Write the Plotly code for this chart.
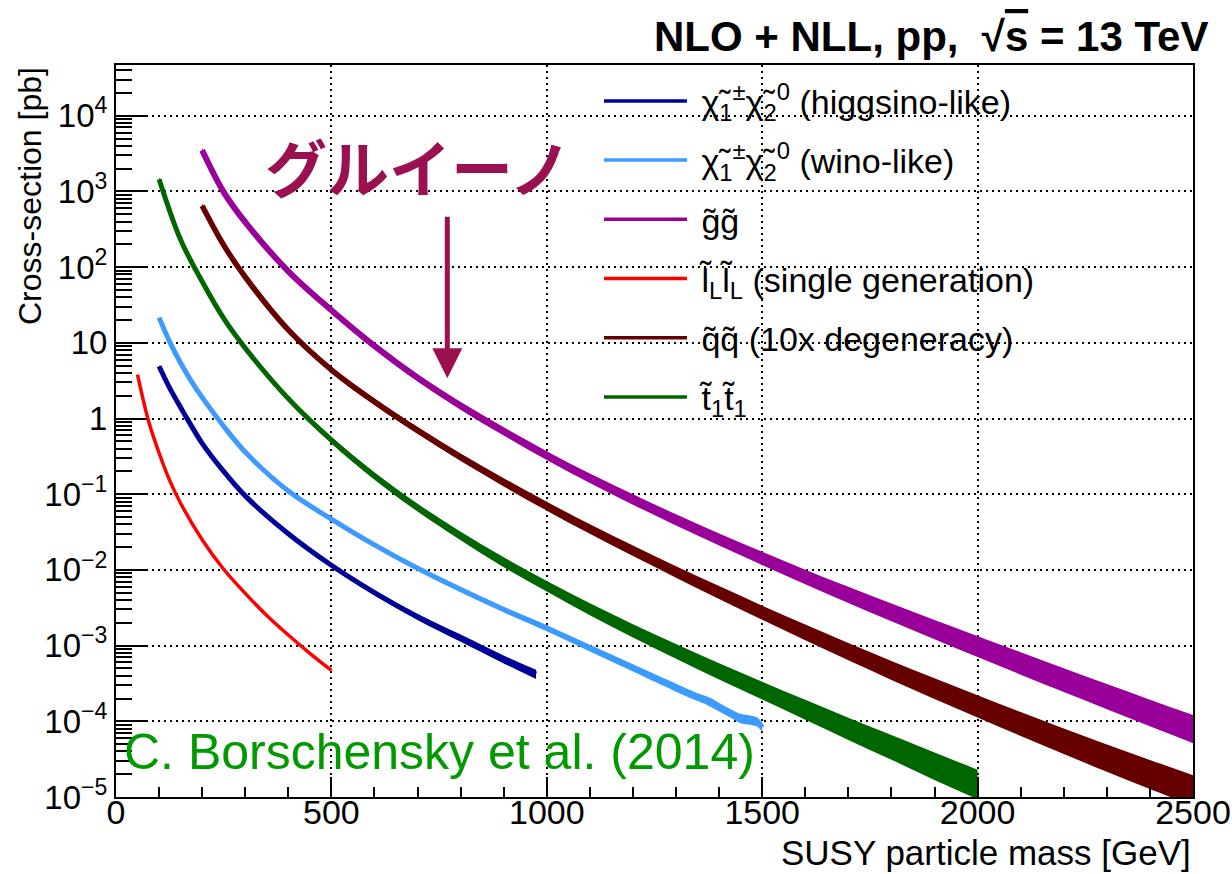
import plotly.graph_objects as go
import numpy as np

# ---------------- data ----------------
gluino_mass = [200, 250, 300, 400, 500, 600, 700, 800, 900, 1000, 1100, 1200, 1300,
               1400, 1500, 1600, 1700, 1800, 1900, 2000, 2100, 2200, 2300, 2400, 2500]
gluino_xsec = [3500, 980, 393, 88, 27, 9.1, 3.45, 1.47, 0.677, 0.325, 0.163, 0.0856, 0.046,
               0.0253, 0.0142, 0.0081, 0.0047, 0.00276, 0.00164, 0.00098, 0.00059, 0.000359,
               0.000219, 0.000134, 8.3e-5]
gluino_up = [7, 7, 7, 8, 9, 10, 11, 12, 13, 14, 15, 17, 18, 20, 22, 24, 27, 30, 33, 36, 38, 40, 42, 44, 46]
gluino_dn = [7, 7, 7, 8, 9, 10, 10, 11, 12, 13, 14, 15, 16, 17, 18, 20, 22, 24, 26, 28, 30, 32, 34, 36, 38]

squark_mass = gluino_mass
squark_xsec = [646, 195, 74, 14.8, 4.4, 1.67, 0.697, 0.308, 0.144, 0.0697, 0.0349, 0.0179, 0.0094,
               0.00505, 0.00274, 0.00151, 0.00084, 0.000476, 0.000274, 0.00016, 9.4e-5, 5.6e-5,
               3.37e-5, 2.06e-5, 1.27e-5]
squark_up = [7, 7, 7, 8, 9, 10, 11, 12, 13, 14, 15, 17, 19, 21, 23, 26, 29, 32, 35, 38, 41, 44, 47, 50, 53]
squark_dn = [7, 7, 7, 8, 9, 10, 10, 11, 12, 13, 14, 15, 16, 18, 20, 22, 24, 26, 28, 30, 32, 34, 36, 38, 40]

stop_mass = [100, 150, 200, 250, 300, 400, 500, 600, 700, 800, 900, 1000, 1100, 1200,
             1300, 1400, 1500, 1600, 1700, 1800, 1900, 2000]
stop_xsec = [1450, 230, 64.5, 21, 8.5, 1.83, 0.52, 0.175, 0.067, 0.0283, 0.0128, 0.00615,
             0.00307, 0.0016, 0.00086, 0.00047, 0.000265, 0.00015, 8.6e-5, 5.0e-5, 2.9e-5, 1.7e-5]
stop_up = [7, 7, 7, 7, 8, 9, 10, 11, 12, 13, 15, 16, 18, 20, 22, 24, 26, 28, 30, 32, 34, 35]
stop_dn = [7, 7, 7, 7, 8, 9, 10, 11, 12, 13, 15, 16, 18, 20, 22, 24, 27, 30, 34, 38, 42, 45]

wino_mass = [100, 125, 150, 175, 200, 250, 300, 400, 500, 600, 700, 800, 900, 1000, 1100,
             1200, 1300, 1350, 1375, 1400, 1425, 1450, 1475, 1490, 1500]
wino_xsec = [21.5, 10.2, 5.4, 3.1, 1.9, 0.79, 0.36, 0.11, 0.047, 0.0214, 0.0105, 0.0055, 0.0030,
             0.0017, 9.3e-4, 5.1e-4, 2.8e-4, 2.1e-4, 1.85e-4, 1.55e-4, 1.3e-4, 1.1e-4, 1.04e-4,
             9.8e-5, 8.3e-5]
wino_unc = [4, 4, 4, 4, 4, 4, 4, 5, 5, 6, 6, 7, 8, 9, 10, 11, 12, 12, 13, 13, 13, 14, 14, 14, 14]

higgsino_mass = [100, 125, 150, 175, 200, 250, 300, 400, 500, 600, 700, 800, 900, 975]
higgsino_xsec = [4.9, 2.5, 1.4, 0.80, 0.47, 0.20, 0.095, 0.030, 0.0115, 0.0050, 0.0024,
                 0.00126, 0.00066, 0.00042]
higgsino_unc = [4, 4, 4, 4, 4, 5, 5, 6, 7, 8, 9, 11, 12, 14]

slepton_mass = [50, 75, 100, 125, 150, 200, 250, 300, 350, 400, 450, 500]
slepton_xsec = [3.8, 0.95, 0.35, 0.15, 0.076, 0.025, 0.0102, 0.0049, 0.0025, 0.00138,
                0.00079, 0.00047]
slepton_unc = [3, 3, 3, 3, 3, 3, 3, 3, 3, 3, 3, 3]

NB = "\u00a0"
series = [
    (NB + "χ̃<sub>1</sub><sup>±</sup>χ̃<sub>2</sub><sup>0</sup> (higgsino-like)", higgsino_mass,
     higgsino_xsec, higgsino_unc, higgsino_unc, "#000099", 5),
    (NB + "χ̃<sub>1</sub><sup>±</sup>χ̃<sub>2</sub><sup>0</sup> (wino-like)", wino_mass, wino_xsec,
     wino_unc, wino_unc, "#3d9bff", 5),
    (NB + "g̃g̃", gluino_mass, gluino_xsec, gluino_up, gluino_dn, "#990099", 6),
    (NB + "l̃<sub>L</sub>l̃<sub>L</sub> (single generation)", slepton_mass, slepton_xsec,
     slepton_unc, slepton_unc, "#ff0000", 3.5),
    (NB + "q̃q̃ (10x degeneracy)", squark_mass, squark_xsec, squark_up, squark_dn, "#660000", 5.5),
    (NB + "t̃<sub>1</sub>t̃<sub>1</sub>", stop_mass, stop_xsec, stop_up, stop_dn, "#006600", 5),
]

fig = go.Figure()

# uncertainty bands (lower edge, then upper edge filled down to it)
for i, (name, m, xs, up, dn, col, lw) in enumerate(series):
    xs = np.array(xs, float)
    hi = xs * (1 + np.array(up) / 100.0)
    lo = xs * (1 - np.array(dn) / 100.0)
    fig.add_trace(go.Scatter(x=m, y=lo, mode="lines", line=dict(width=0, color=col, shape="spline"),
                             showlegend=False, hoverinfo="skip"))
    fig.add_trace(go.Scatter(x=m, y=hi, mode="lines", line=dict(width=0, color=col, shape="spline"),
                             fill="tonexty", fillcolor=col, showlegend=False, hoverinfo="skip"))

# central lines
for i, (name, m, xs, up, dn, col, lw) in enumerate(series):
    fig.add_trace(go.Scatter(x=m, y=xs, mode="lines", showlegend=False,
                             line=dict(color=col, width=lw, shape="spline")))

# legend entries (thin keys as in the reference)
for i, (name, m, xs, up, dn, col, lw) in enumerate(series):
    fig.add_trace(go.Scatter(x=[None], y=[None], mode="lines", name=name, legendgroup=f"g{i}",
                             line=dict(color=col, width=3.5)))

NARROW = "Liberation Sans Narrow, Liberation Sans, Arial, sans-serif"
SANS = "Liberation Sans, Arial, sans-serif"

ytickvals = [10.0 ** k for k in range(-5, 5)]
yticktext = ["10<sup>−5</sup>", "10<sup>−4</sup>", "10<sup>−3</sup>", "10<sup>−2</sup>",
             "10<sup>−1</sup>", "1", "10", "10<sup>2</sup>", "10<sup>3</sup>", "10<sup>4</sup>"]
yminor = [d * 10.0 ** k for k in range(-5, 5) for d in range(2, 10)]

fig.update_layout(
    width=1232, height=874,
    margin=dict(l=116, r=39, t=65, b=77, autoexpand=False),
    paper_bgcolor="white", plot_bgcolor="white",
    font=dict(family=SANS, color="black"),
    xaxis=dict(range=[0, 2500], showline=True, linewidth=2, linecolor="black", mirror=True,
               automargin=False,
               ticks="inside", ticklen=20, tickwidth=1.5, tickcolor="black",
               tickvals=[0, 500, 1000, 1500, 2000, 2500],
               tickfont=dict(family=NARROW, size=34), ticklabelstandoff=-16,
               showgrid=True, gridcolor="black", gridwidth=1.5, griddash="2px,4px",
               minor=dict(dtick=100, ticks="inside", ticklen=10, tickwidth=1.5, tickcolor="black",
                          showgrid=False),
               zeroline=False),
    yaxis=dict(type="log", range=[-5, 4.67], showline=True, linewidth=2, linecolor="black",
               mirror=True, automargin=False,
               ticks="inside", ticklen=31, tickwidth=1.5, tickcolor="black",
               tickvals=ytickvals, ticktext=yticktext,
               tickfont=dict(family=SANS, size=33),
               showgrid=True, gridcolor="black", gridwidth=1.5, griddash="2px,4px",
               minor=dict(tickvals=yminor, ticks="inside", ticklen=16, tickwidth=1.5,
                          tickcolor="black", showgrid=False),
               zeroline=False),
    legend=dict(x=(599 - 116) / 1077, y=0.99, xanchor="left", yanchor="top",
                bgcolor="rgba(0,0,0,0)",
                font=dict(family=SANS, size=34), itemwidth=83, tracegroupgap=12),
    showlegend=True,
)

# white box behind the citation text (hides grid only)
fig.add_shape(type="rect", xref="paper", yref="paper", x0=0.001, x1=0.59, y0=0.001, y1=0.099,
              fillcolor="white", line=dict(width=0), layer="between")

fig.add_annotation(text="C. Borschensky et al. (2014)", xref="paper", yref="paper",
                   x=0.006, y=(797 - 752) / 732, xanchor="left", yanchor="middle", showarrow=False,
                   font=dict(family=NARROW, size=50, color="#009900"))

fig.add_annotation(text="<b>グルイーノ</b>", xref="paper", yref="paper",
                   x=(418 - 116) / 1077, y=(797 - 166) / 732, xanchor="center", yanchor="middle",
                   showarrow=False,
                   font=dict(family="Noto Sans CJK JP", size=62, color="#9b1050"))

# arrow pointing at the gluino curve
fig.add_annotation(x=769, y=np.log10(3.4), xref="x", yref="y", ax=0, ay=-163,
                   axref="pixel", ayref="pixel", text="", showarrow=True,
                   arrowhead=2, arrowsize=1.2, arrowwidth=5, arrowcolor="#9b1050", standoff=0)

fig.add_annotation(text="<b>NLO + NLL, pp,  √<span style='text-decoration:overline'>s</span> = 13 TeV</b>",
                   xref="paper", yref="paper",
                   x=(1210 - 116) / 1077, y=(797 - 37) / 732, xanchor="right", yanchor="middle",
                   showarrow=False, font=dict(family=SANS, size=42, color="black"))

fig.add_annotation(text="SUSY particle mass [GeV]", xref="paper", yref="paper",
                   x=1.0, y=-(852 - 797) / 732, xanchor="right", yanchor="middle",
                   showarrow=False, font=dict(family=NARROW, size=35, color="black"))

fig.add_annotation(text="Cross-section [pb]", xref="paper", yref="paper", textangle=-90,
                   x=(30 - 116) / 1077, y=1.0, xanchor="center", yanchor="top",
                   showarrow=False, font=dict(family=NARROW, size=32, color="black"))

fig.write_html("out.html")
